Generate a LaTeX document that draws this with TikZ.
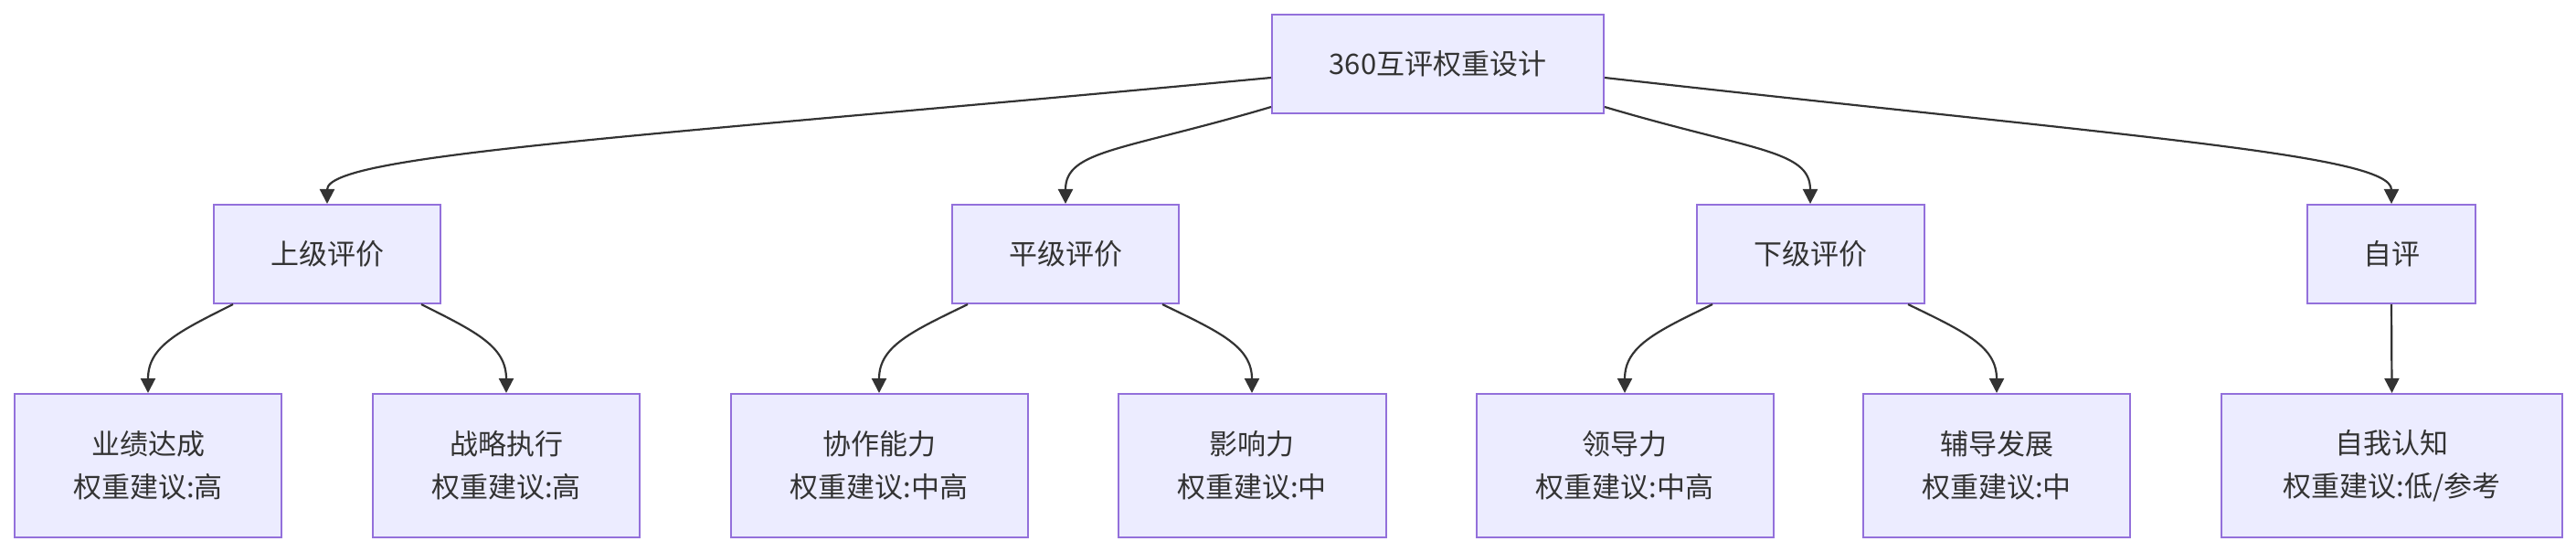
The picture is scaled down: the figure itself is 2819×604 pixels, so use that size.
\documentclass[tikz,border=0pt]{standalone}
\usepackage{fontspec}
\setmainfont{Noto Sans CJK SC}
\usetikzlibrary{arrows.meta,calc}
\definecolor{boxfill}{HTML}{ECECFF}
\definecolor{boxline}{HTML}{9370DB}
\definecolor{ink}{HTML}{333333}
\tikzset{
  box/.style={draw=boxline, fill=boxfill, line width=2pt, rectangle, inner sep=0pt,
    minimum height=108pt, text=ink, align=center,
    font=\fontsize{31}{47}\selectfont},
  leaf/.style={box, minimum height=157pt},
  link/.style={draw=ink, line width=2.2pt, -{Triangle[length=16pt,width=16pt]}}
}
\begin{document}
\begin{tikzpicture}[x=1pt,y=-1pt]
\useasboundingbox (0,0) rectangle (2819,604);
% level 0
\node[box, minimum width=363pt] (root) at (1573.5,70) {360互评权重设计};
% level 1
\node[box, minimum width=248pt] (sj) at (358,278) {上级评价};
\node[box, minimum width=248pt] (pj) at (1166,278) {平级评价};
\node[box, minimum width=249pt] (xj) at (1981,278) {下级评价};
\node[box, minimum width=184pt] (zp) at (2617,278) {自评};
% level 2
\node[leaf, minimum width=292pt] (yj) at (162,509.5) {业绩达成\\权重建议:高};
\node[leaf, minimum width=292pt] (zl) at (554,509.5) {战略执行\\权重建议:高};
\node[leaf, minimum width=325pt] (xz) at (962,509.5) {协作能力\\权重建议:中高};
\node[leaf, minimum width=293pt] (yx) at (1370,509.5) {影响力\\权重建议:中};
\node[leaf, minimum width=325pt] (ld) at (1778,509.5) {领导力\\权重建议:中高};
\node[leaf, minimum width=292pt] (fd) at (2185,509.5) {辅导发展\\权重建议:中};
\node[leaf, minimum width=373pt] (zw) at (2617.5,509.5) {自我认知\\权重建议:低/参考};
% root edges
\draw[link] ([yshift=-15pt]root.west) .. controls +(-692,65) and +(0,-54) .. (sj.north);
\draw[link] ([yshift=-47pt]root.west) .. controls +(-162,48) and +(0,-59) .. (pj.north);
\draw[link] ([yshift=-47pt]root.east) .. controls +(162,48) and +(0,-59) .. (xj.north);
\draw[link] ([yshift=-15pt]root.east) .. controls +(577,65) and +(0,-54) .. (zp.north);
% child edges
\draw[link] ([xshift=-103pt]sj.south) .. controls +(-60,30) and +(0,-51) .. (yj.north);
\draw[link] ([xshift=103pt]sj.south) .. controls +(60,30) and +(0,-51) .. (zl.north);
\draw[link] ([xshift=-107pt]pj.south) .. controls +(-62,30) and +(0,-51) .. (xz.north);
\draw[link] ([xshift=106pt]pj.south) .. controls +(62,30) and +(0,-51) .. (yx.north);
\draw[link] ([xshift=-107pt]xj.south) .. controls +(-62,30) and +(0,-51) .. (ld.north);
\draw[link] ([xshift=107pt]xj.south) .. controls +(62,30) and +(0,-51) .. (fd.north);
\draw[link] (zp.south) -- (zw.north);
\end{tikzpicture}
\end{document}
